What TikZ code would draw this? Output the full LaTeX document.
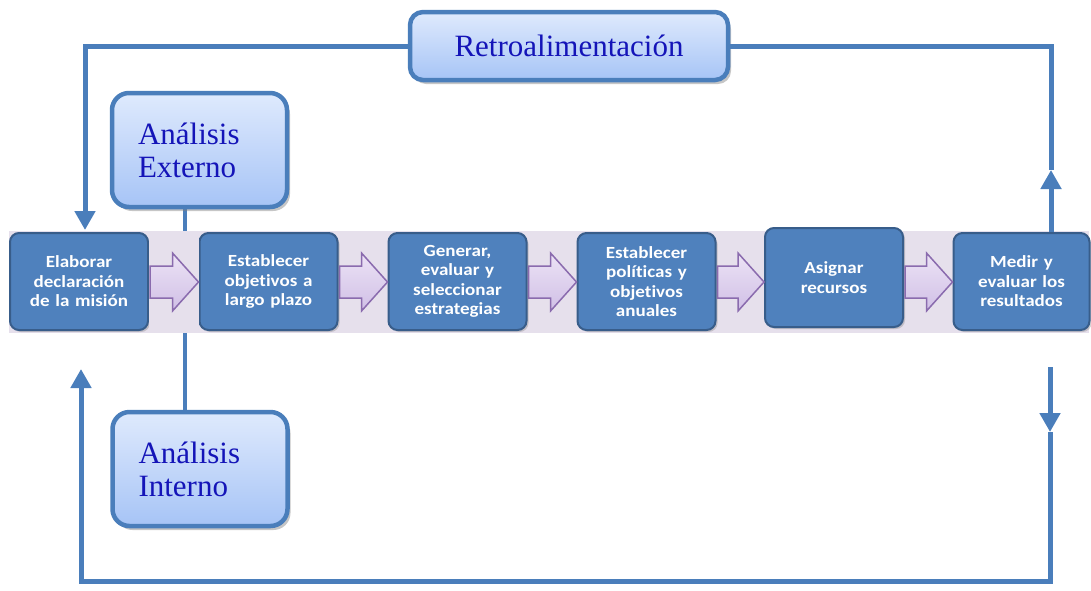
\documentclass[tikz,border=0pt]{standalone}
\usepackage{fontspec}
\setmainfont{Liberation Serif}
\newfontfamily\stepfont[FakeStretch=1.12,Ligatures=NoCommon]{Carlito}
\usetikzlibrary{arrows.meta,shadows,calc,backgrounds}

\definecolor{flowblue}{HTML}{4A7EBB}
\definecolor{stepfill}{HTML}{4F81BD}
\definecolor{stepedge}{HTML}{385D8A}
\definecolor{softtop}{HTML}{DFEAFD}
\definecolor{softbot}{HTML}{A6C4F6}
\definecolor{softtext}{HTML}{1414B8}
\definecolor{bandfill}{HTML}{E6E0EC}
\definecolor{arrowtop}{HTML}{ECE3F5}
\definecolor{arrowbot}{HTML}{D0BFE6}
\definecolor{arrowedge}{HTML}{8A6BAE}

\begin{document}
\begin{tikzpicture}[x=1pt,y=-1pt,
  stepbox/.style={rounded corners=9pt, fill=stepfill, draw=stepedge, line width=2pt,
    minimum width=138pt, minimum height=97pt, text width=130pt, inner sep=3pt,
    align=center, text=white, font=\stepfont\bfseries\fontsize{17}{19.5}\selectfont,
    drop shadow={shadow xshift=2pt, shadow yshift=-2pt, opacity=.35}},
  softbox/.style={rounded corners=17pt, top color=softtop, bottom color=softbot,
    draw=flowblue, line width=4.5pt, text=softtext,
    font=\fontsize{31}{33}\selectfont,
    drop shadow={shadow xshift=3pt, shadow yshift=-4pt, opacity=.45}},
  flow/.style={draw=flowblue, line width=5pt},
  flowtip/.style={-{Triangle[length=19pt,width=20pt]}},
  blockarrow/.style={top color=arrowtop, bottom color=arrowbot, draw=arrowedge,
    line width=1.5pt, line join=miter}
]
\useasboundingbox (0,0) rectangle (1091,590);

% process band
\fill[bandfill] (9,231) rectangle (1089,333);

% process steps
\node[stepbox] (b1) at (79,281.5) {Elaborar\\declaración\\de la misión};
\node[stepbox] (b2) at (268.5,281.5) {Establecer\\objetivos a\\largo plazo};
\node[stepbox] (b3) at (457.5,281.5) {Generar,\\evaluar y\\seleccionar\\estrategias};
\node[stepbox] (b4) at (646.5,281.5) {Establecer\\políticas y\\objetivos\\anuales};
\node[stepbox, minimum height=99pt] (b5) at (834,277.5) {Asignar\\recursos};
\node[stepbox, minimum width=133pt] (b6) at (1021.5,281.5) {Medir y\\evaluar los\\resultados};

% analysis boxes and feedback box
\node[softbox, minimum width=175pt, minimum height=114pt, text width=123pt,
      inner xsep=26pt, align=left] (ext) at (199.5,150) {Análisis\\Externo};
\node[softbox, minimum width=175pt, minimum height=114pt, text width=123pt,
      inner xsep=26pt, align=left] (int) at (200,469) {Análisis\\Interno};
\node[softbox, rounded corners=13pt, minimum width=318pt, minimum height=68pt] (retro) at (569,46) {Retroalimentación};

% link between the two analysis boxes, behind the band
\coordinate (axis) at (0,282);
\coordinate (exty) at (185,0);
\begin{scope}[on background layer]
  \draw[flow, line width=4.5pt] (ext.south -| exty) -- (int.north -| exty);
\end{scope}
\fill[bandfill] (149,231) rectangle (199,333);

% block arrows between steps
\foreach \a/\b in {b1/b2,b2/b3,b3/b4,b4/b5,b5/b6}{
  \path[blockarrow]
    ($(\a.east |- axis)+(1,-16)$) -- ($(\b.west |- axis)+(-26,-16)$)
    -- ($(\b.west |- axis)+(-26,-29)$) -- ($(\b.west |- axis)+(0,0)$)
    -- ($(\b.west |- axis)+(-26,29)$) -- ($(\b.west |- axis)+(-26,16)$)
    -- ($(\a.east |- axis)+(1,16)$) -- cycle;
}

% feedback loop
\coordinate (leftx) at (85,0);
\coordinate (upTip) at (1051,170);
\coordinate (downStart) at (1050,367);
\coordinate (downTip) at (1050,432);
\coordinate (bottomRight) at (1050,581);
\coordinate (bottomLeft) at (81,581);
\coordinate (leftTip) at (81,369);

\draw[flow, flowtip] (retro.west) -| ([yshift=2pt]b1.north -| leftx);
\draw[flow] (retro.east) -| (upTip);
\draw[flow, flowtip] (b6.north -| upTip) -- (upTip);
\draw[flow, flowtip] (downStart) -- (downTip);
\draw[flow, flowtip] (downTip) -- (bottomRight) -- (bottomLeft) -- (leftTip);
\end{tikzpicture}
\end{document}
